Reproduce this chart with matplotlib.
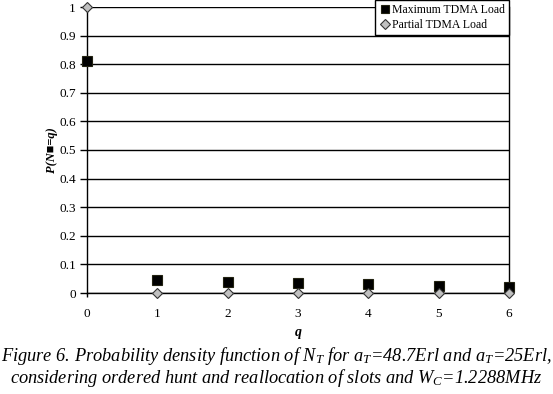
import numpy as np
import matplotlib
matplotlib.use("Agg")
from matplotlib import pyplot as plt

# data
q = [0, 1, 2, 3, 4, 5, 6]
max_load = [0.81, 0.045, 0.037, 0.034, 0.030, 0.024, 0.020]
partial_load = [1.0, 0.0, 0.0, 0.0, 0.0, 0.0, 0.0]
y_ticks = [0, 0.1, 0.2, 0.3, 0.4, 0.5, 0.6, 0.7, 0.8, 0.9, 1]
y_labels = ["0", "0.1", "0.2", "0.3", "0.4", "0.5", "0.6", "0.7", "0.8", "0.9", "1"]

plt.rcParams["font.family"] = ["Liberation Serif", "DejaVu Serif"]
plt.rcParams["mathtext.fontset"] = "custom"
plt.rcParams["mathtext.rm"] = "Liberation Serif:italic"
plt.rcParams["mathtext.it"] = "Liberation Serif:italic"

fig = plt.figure(figsize=(5.53, 3.94), dpi=100)
# axes box in pixels: x 87..509, y 7..293
ax = fig.add_axes([87 / 553, 1 - 293 / 394, 422 / 553, 286 / 394])

ax.set_xlim(0, 6)
ax.set_ylim(0, 1)
ax.set_yticks(y_ticks)
ax.set_yticklabels(y_labels)
ax.set_xticks(q)
ax.yaxis.grid(True, color="black", linewidth=1.0)
ax.set_axisbelow(True)
ax.spines["top"].set_visible(False)
for s in ["left", "right", "bottom"]:
    ax.spines[s].set_linewidth(1.0)
ax.tick_params(axis="y", direction="out", length=5, width=1, labelsize=9.5, pad=3)
ax.tick_params(axis="x", direction="out", length=3, width=1, labelsize=9.5, pad=8)

ax.plot(q, max_load, linestyle="none", marker="s", markersize=7,
        markerfacecolor="black", markeredgecolor="#222211", markeredgewidth=0.8,
        label="Maximum TDMA Load", clip_on=False, zorder=3)
ax.plot(q, partial_load, linestyle="none", marker="D", markersize=5.5,
        markerfacecolor="#c0c0c0", markeredgecolor="#333333", markeredgewidth=0.8,
        label="Partial TDMA Load", clip_on=False, zorder=4)

leg = ax.legend(loc="upper right", bbox_to_anchor=(1.0, 1.025), borderaxespad=0,
                fontsize=8.5, frameon=True, fancybox=False, framealpha=1,
                edgecolor="black", handletextpad=0.1, handlelength=1.0,
                borderpad=0.35, labelspacing=0.25, markerscale=0.9)
leg.get_frame().set_linewidth(1.0)

ax.set_xlabel("q", fontsize=10, fontweight="bold", fontstyle="italic", labelpad=4)
fig.text(52 / 553, 1 - 150 / 394, "P(N\u25a0=q)", rotation=90, ha="center", va="center",
         fontsize=9, fontweight="bold", fontstyle="italic",
         family=["Liberation Serif", "DejaVu Sans"])

fig.text(0.5, 1 - 356 / 394,
         r"Figure 6. Probability density function of N$_{T}$ for a$_{T}$=48.7Erl and a$_{T}$=25Erl,",
         ha="center", va="center", fontsize=13.2, fontstyle="italic")
fig.text(0.5, 1 - 378 / 394,
         r"considering ordered hunt and reallocation of slots and W$_{C}$=1.2288MHz",
         ha="center", va="center", fontsize=13.2, fontstyle="italic")

fig.savefig("out.png", dpi=100)
